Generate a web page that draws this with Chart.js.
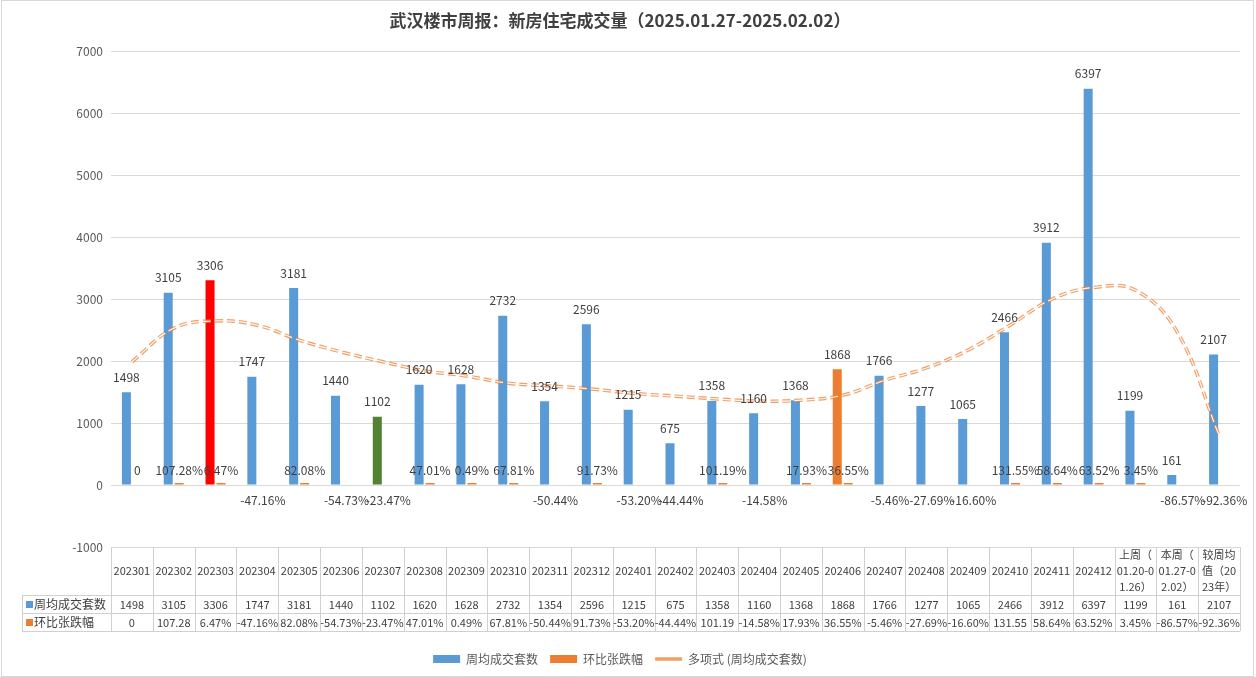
<!DOCTYPE html>
<html>
<head>
<meta charset="utf-8">
<title>武汉楼市周报</title>
<script src="https://cdn.jsdelivr.net/npm/chart.js@4.4.1/dist/chart.umd.min.js"></script>
<style>
  html, body { margin: 0; padding: 0; background: #fff; }
  #wrap { width: 1256px; height: 677px; }
</style>
</head>
<body>
<div id="wrap"><canvas id="chart" width="1256" height="677"></canvas></div>
<script>
// 类别（表头），最后三列是多行文字
const categories = [
  '202301', '202302', '202303', '202304', '202305', '202306',
  '202307', '202308', '202309', '202310', '202311', '202312',
  '202401', '202402', '202403', '202404', '202405', '202406',
  '202407', '202408', '202409', '202410', '202411', '202412',
  ['上周（', '01.20-0', '1.26）'],
  ['本周（', '01.27-0', '2.02）'],
  ['较周均', '值（20', '23年）']
];

// 周均成交套数
const weeklyAvg = [
  1498, 3105, 3306, 1747, 3181, 1440, 1102, 1620, 1628, 2732, 1354, 2596,
  1215, 675, 1358, 1160, 1368, 1868, 1766, 1277, 1065, 2466, 3912, 6397,
  1199, 161, 2107
];

// 环比张跌幅（单位 %）
const changePct = [
  0, 107.28, 6.47, -47.16, 82.08, -54.73, -23.47, 47.01, 0.49, 67.81, -50.44, 91.73,
  -53.20, -44.44, 101.19, -14.58, 17.93, 36.55, -5.46, -27.69, -16.60, 131.55, 58.64, 63.52,
  3.45, -86.57, -92.36
];

// 多项式趋势线（从图上读出的每列位置的值）
const trendValues = [
  1990, 2530, 2650, 2580, 2340, 2150, 1990, 1845, 1760, 1645, 1600, 1550,
  1480, 1435, 1390, 1355, 1370, 1450, 1690, 1890, 2180, 2580, 3000, 3190,
  3145, 2470, 800
];

// 单独上色的柱子
const barColors = weeklyAvg.map((v, i) => {
  if (i === 2) return '#FF0000';
  if (i === 6) return '#548235';
  if (i === 17) return '#ED7D31';
  return '#5B9BD5';
});
// 环比柱子太小，只有正数能看到一点
const pctColors = changePct.map(v => (v > 0 ? '#ED7D31' : 'rgba(0,0,0,0)'));

const FONT = '"Noto Sans CJK SC", "Microsoft YaHei", sans-serif';
Chart.defaults.font.family = FONT;
Chart.defaults.color = '#404040';

function pctText(v) {
  if (v === 0) return '0';
  return v.toFixed(2) + '%';
}

// 柱子上的数字
const labelPlugin = {
  id: 'barLabels',
  afterDatasetsDraw(chart) {
    const ctx = chart.ctx;
    const y0 = chart.scales.y.getPixelForValue(0);
    ctx.save();
    ctx.font = '12px ' + FONT;
    ctx.fillStyle = '#404040';
    ctx.textAlign = 'center';
    ctx.textBaseline = 'middle';
    chart.getDatasetMeta(0).data.forEach((bar, i) => {
      ctx.fillText(String(weeklyAvg[i]), bar.x, bar.y - 15);
    });
    chart.getDatasetMeta(1).data.forEach((bar, i) => {
      const v = changePct[i];
      ctx.fillText(pctText(v), bar.x, v >= 0 ? y0 - 15 : y0 + 15);
    });
    ctx.restore();
  }
};

// 下方的数据表 + 外框
const tablePlugin = {
  id: 'dataTable',
  afterDraw(chart) {
    const ctx = chart.ctx;
    const xs = chart.scales.x;
    const area = chart.chartArea;
    const n = categories.length;
    const colW = (area.right - area.left) / n;
    const top = area.bottom;
    const headBottom = top + 48;
    const row1 = headBottom + 18;
    const row2 = row1 + 18;
    const keyLeft = 22;

    ctx.save();
    ctx.strokeStyle = '#d0d0d0';
    ctx.lineWidth = 1;
    ctx.beginPath();
    [headBottom, row1, row2].forEach(y => {
      ctx.moveTo(keyLeft, y + 0.5);
      ctx.lineTo(area.right, y + 0.5);
    });
    for (let i = 0; i <= n; i++) {
      const x = Math.round(area.left + i * colW) + 0.5;
      ctx.moveTo(x, top);
      ctx.lineTo(x, row2);
    }
    ctx.moveTo(keyLeft + 0.5, headBottom);
    ctx.lineTo(keyLeft + 0.5, row2);
    ctx.stroke();

    ctx.fillStyle = '#404040';
    ctx.font = '11px ' + FONT;
    ctx.textAlign = 'center';
    ctx.textBaseline = 'middle';
    categories.forEach((c, i) => {
      const x = xs.getPixelForValue(i);
      const mid = (top + headBottom) / 2;
      if (Array.isArray(c)) {
        c.forEach((line, k) => {
          ctx.fillText(line, x, mid + (k - 1) * 16);
        });
      } else {
        ctx.fillText(c, x, mid);
      }
      ctx.fillText(String(weeklyAvg[i]), x, headBottom + 9.5);
      // 表格里 100% 以上放不下 %
      const v = changePct[i];
      const t = Math.abs(v) >= 100 ? v.toFixed(2) : pctText(v);
      ctx.fillText(t, x, row1 + 9.5);
    });

    // 表格左边的图例
    ctx.textAlign = 'left';
    ctx.font = '12px ' + FONT;
    ctx.fillStyle = '#5B9BD5';
    ctx.fillRect(keyLeft + 4, headBottom + 6, 7, 7);
    ctx.fillStyle = '#ED7D31';
    ctx.fillRect(keyLeft + 4, row1 + 6, 7, 7);
    ctx.fillStyle = '#404040';
    ctx.fillText('周均成交套数', keyLeft + 12, headBottom + 9.5);
    ctx.fillText('环比张跌幅', keyLeft + 12, row1 + 9.5);

    // 外框
    ctx.strokeStyle = '#d9d9d9';
    ctx.strokeRect(1.5, 0.5, chart.width - 4, chart.height - 1);
    ctx.restore();
  }
};

const chart = new Chart(document.getElementById('chart'), {
  data: {
    labels: categories,
    datasets: [
      {
        type: 'bar',
        label: '周均成交套数',
        data: weeklyAvg,
        backgroundColor: barColors,
        pointStyle: 'rect',
        order: 2
      },
      {
        type: 'bar',
        label: '环比张跌幅',
        data: changePct.map(v => v / 100),
        backgroundColor: pctColors,
        minBarLength: 2,
        pointStyle: 'rect',
        order: 2
      },
      {
        type: 'line',
        label: '多项式 (周均成交套数)',
        data: trendValues,
        borderColor: 'rgba(237,125,49,0.75)',
        backgroundColor: 'rgba(237,125,49,0.75)',
        borderWidth: 3.5,
        borderDash: [8, 4],
        pointRadius: 0,
        tension: 0.4,
        pointStyle: 'line',
        order: 1
      },
      {
        type: 'line',
        label: 'trend-inner',
        data: trendValues,
        borderColor: 'rgba(255,255,255,0.95)',
        borderWidth: 1.2,
        borderDash: [8, 4],
        pointRadius: 0,
        tension: 0.4,
        order: 0
      }
    ]
  },
  options: {
    responsive: false,
    animation: false,
    devicePixelRatio: 1,
    layout: { padding: { left: 0, right: 16, top: 0, bottom: 2 } },
    datasets: {
      bar: { categoryPercentage: 0.526, barPercentage: 0.82 }
    },
    scales: {
      x: {
        ticks: { display: false },
        grid: { display: false },
        border: { display: false },
        afterFit: s => { s.height = 94; }
      },
      y: {
        min: -1000,
        max: 7000,
        ticks: {
          stepSize: 1000,
          color: '#595959',
          font: { size: 12 },
          padding: 8,
          callback: v => String(v)
        },
        grid: { color: '#d9d9d9', drawTicks: false },
        border: { display: false },
        afterFit: s => { s.width = 111; }
      }
    },
    plugins: {
      title: {
        display: true,
        text: '武汉楼市周报：新房住宅成交量（2025.01.27-2025.02.02）',
        color: '#404040',
        font: { size: 17, weight: 'bold' },
        padding: { top: 10, bottom: 21 }
      },
      legend: {
        position: 'bottom',
        labels: {
          usePointStyle: true,
          pointStyleWidth: 27,
          boxHeight: 8,
          color: '#595959',
          font: { size: 12 },
          padding: 12,
          generateLabels: chart => {
            const items = Chart.defaults.plugins.legend.labels.generateLabels(chart);
            items.forEach(it => {
              if (it.datasetIndex === 1) it.fillStyle = '#ED7D31';
              if (it.datasetIndex === 0) it.fillStyle = '#5B9BD5';
            });
            return items;
          },
          filter: item => item.text !== 'trend-inner',
          sort: (a, b) => a.datasetIndex - b.datasetIndex
        }
      },
      tooltip: { enabled: false }
    }
  },
  plugins: [labelPlugin, tablePlugin]
});
</script>
</body>
</html>
